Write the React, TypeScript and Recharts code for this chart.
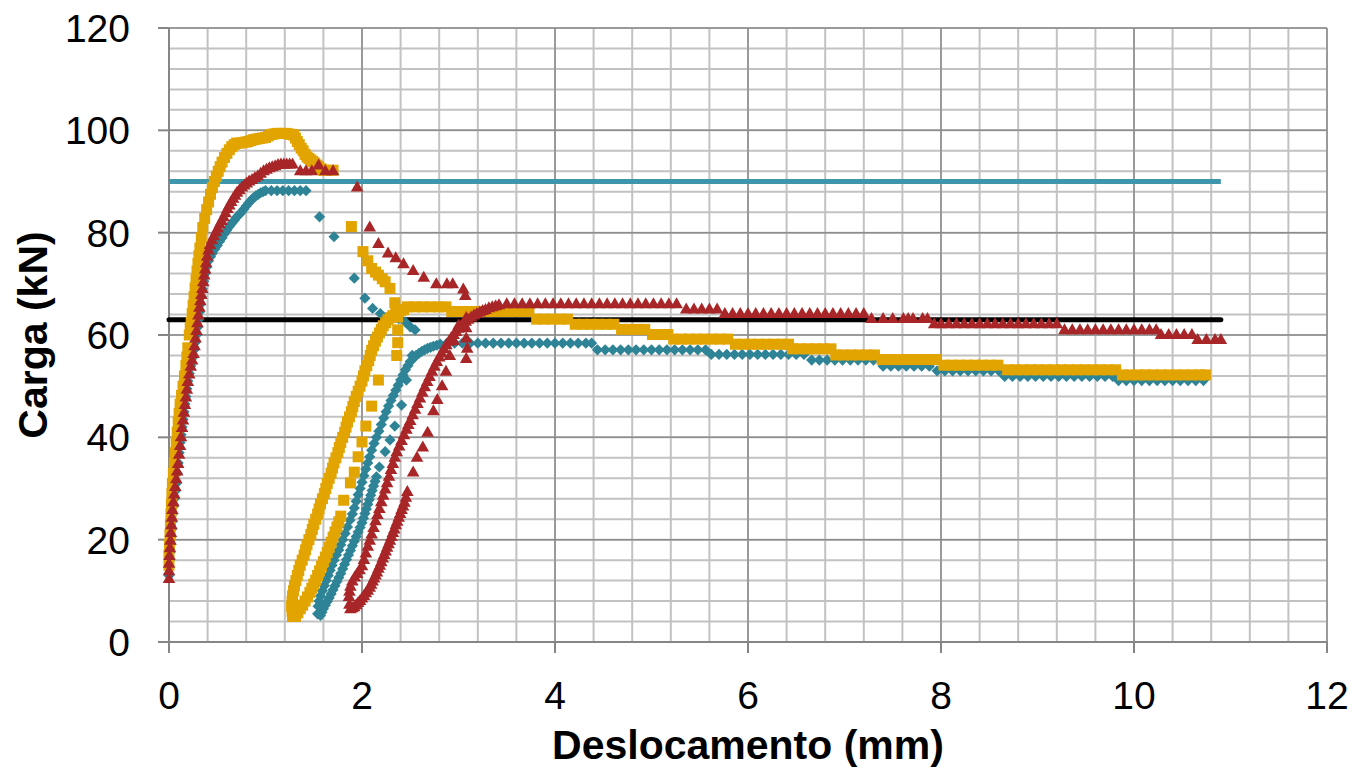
import { ScatterChart, Scatter, XAxis, YAxis, CartesianGrid, Label } from 'recharts';

type Pt = [number, number];

const FONT = '"Liberation Sans", Arial, sans-serif';
const TEAL = '#2E8496';
const TEAL_LINE = '#3E96AC';
const GOLD = '#E2A400';
const RED = '#A82628';

const xTicks = [0, 2, 4, 6, 8, 10, 12];
const yTicks = [0, 20, 40, 60, 80, 100, 120];
const xMinor = [0, 0.4, 0.8, 1.2, 1.6, 2, 2.4, 2.8, 3.2, 3.6, 4, 4.4, 4.8, 5.2, 5.6, 6, 6.4, 6.8, 7.2, 7.6, 8, 8.4, 8.8, 9.2, 9.6, 10, 10.4, 10.8, 11.2, 11.6, 12];
const yMinor = [0, 4, 8, 12, 16, 20, 24, 28, 32, 36, 40, 44, 48, 52, 56, 60, 64, 68, 72, 76, 80, 84, 88, 92, 96, 100, 104, 108, 112, 116, 120];

// reference lines (kN)
const upperLine: Pt[] = [[0, 90], [10.9, 90]];
const lowerLine: Pt[] = [[0, 63], [10.9, 63]];

// teal (diamonds)
const tealRise: Pt[] = [[0, 13], [0, 14.5], [0.005, 16], [0.01, 17.5], [0.015, 19], [0.02, 20.5], [0.025, 22], [0.03, 23.5], [0.035, 25], [0.045, 26.5], [0.055, 28], [0.065, 29.5], [0.075, 31], [0.085, 33], [0.095, 35], [0.105, 37], [0.115, 39], [0.125, 40.5], [0.135, 42], [0.145, 43.5], [0.155, 45], [0.165, 46.5], [0.175, 48], [0.185, 49.5], [0.195, 51], [0.21, 52.5], [0.225, 54], [0.24, 55.5], [0.255, 57], [0.27, 58.5], [0.285, 60], [0.295, 61.5], [0.305, 63], [0.315, 64.5], [0.325, 66], [0.335, 67.5], [0.345, 69], [0.36, 70.5], [0.375, 72], [0.39, 73.3], [0.41, 74.5], [0.43, 75.3], [0.45, 76], [0.475, 76.8], [0.5, 77.5], [0.525, 78.3], [0.55, 79], [0.575, 79.8], [0.6, 80.5], [0.625, 81.2], [0.65, 81.8], [0.675, 82.4], [0.7, 83], [0.725, 83.5], [0.75, 84], [0.775, 84.6], [0.8, 85.2], [0.825, 85.8], [0.85, 86.3], [0.875, 86.8], [0.9, 87.2], [0.925, 87.5], [0.95, 87.8], [0.975, 88]];
const tealPeak: Pt[] = [[1.0, 88.2], [1.06, 88.2], [1.12, 88.2], [1.18, 88.2], [1.24, 88.2], [1.3, 88.2], [1.36, 88.2], [1.42, 88.2]];
const tealDrop: Pt[] = [[1.56, 83.1], [1.71, 79.2], [1.92, 71.1], [2.03, 67.2], [2.11, 65.2], [2.19, 64.2], [2.29, 63.6], [2.38, 63.2], [2.45, 62.5], [2.5, 61.6], [2.55, 61.0]];
const tealUnload: Pt[] = [[2.52, 56.0], [2.46, 51.2], [2.41, 46.3], [2.34, 42.2], [2.29, 39.5], [2.24, 37.2], [2.18, 34.2], [2.15, 32.3], [2.135, 31.4], [2.12, 30.5], [2.105, 29.6], [2.09, 28.7], [2.075, 27.8], [2.06, 26.9], [2.045, 26], [2.03, 25.1], [2.015, 24.2], [2.0, 23.3], [1.98, 22.4], [1.96, 21.5], [1.94, 20.6], [1.92, 19.7], [1.9, 18.8], [1.88, 17.9], [1.86, 17], [1.84, 16.1], [1.82, 15.2], [1.8, 14.3], [1.78, 13.4], [1.76, 12.6], [1.74, 11.8], [1.72, 11], [1.7, 10.2], [1.68, 9.4], [1.66, 8.6], [1.64, 7.9], [1.62, 7.2], [1.6, 6.5], [1.585, 5.8], [1.57, 5.2]];
const tealReload: Pt[] = [[1.54, 5.5], [1.545, 7], [1.555, 8], [1.57, 9], [1.59, 10], [1.61, 11], [1.63, 12], [1.65, 13], [1.67, 14], [1.69, 15], [1.71, 16], [1.735, 17], [1.76, 18], [1.78, 19], [1.8, 20], [1.825, 21.2], [1.85, 22.5], [1.875, 23.8], [1.9, 25], [1.92, 26.2], [1.94, 27.5], [1.96, 28.8], [1.98, 30], [2.0, 31.2], [2.02, 32.5], [2.04, 33.8], [2.06, 35], [2.08, 36.2], [2.1, 37.5], [2.125, 38.8], [2.15, 40], [2.175, 41.2], [2.2, 42.5], [2.225, 43.8], [2.25, 45], [2.275, 46.1], [2.3, 47.2], [2.325, 48.2], [2.35, 49.2], [2.375, 50.2], [2.4, 51.2], [2.425, 52.2], [2.45, 53.2], [2.475, 54], [2.5, 54.8], [2.53, 55.4], [2.56, 56], [2.59, 56.4], [2.62, 56.8], [2.65, 57.1], [2.68, 57.4], [2.71, 57.6], [2.74, 57.8], [2.775, 58], [2.81, 58.2]];
const tealPlateau: Pt[] = [
  [2.88, 58.4], [2.96, 58.4], [3.04, 58.4], [3.12, 58.4], [3.2, 58.4], [3.28, 58.4], [3.36, 58.4], [3.44, 58.4], [3.52, 58.4], [3.6, 58.4], [3.68, 58.4], [3.76, 58.4], [3.84, 58.4], [3.92, 58.4], [4.0, 58.4], [4.08, 58.4], [4.16, 58.4], [4.24, 58.4], [4.32, 58.4], [4.38, 58.4],
  [4.44, 57.1], [4.52, 57.1], [4.6, 57.1], [4.68, 57.1], [4.76, 57.1], [4.84, 57.1], [4.92, 57.1], [5.0, 57.1], [5.08, 57.1], [5.16, 57.1], [5.24, 57.1], [5.32, 57.1], [5.4, 57.1], [5.48, 57.1], [5.56, 57.1],
  [5.62, 56.2], [5.7, 56.2], [5.78, 56.2], [5.86, 56.2], [5.94, 56.2], [6.02, 56.2], [6.1, 56.2], [6.18, 56.2], [6.26, 56.2], [6.34, 56.2], [6.42, 56.2], [6.5, 56.2], [6.58, 56.2],
  [6.66, 55.1], [6.74, 55.1], [6.82, 55.1], [6.9, 55.1], [6.98, 55.1], [7.06, 55.1], [7.14, 55.1], [7.22, 55.1], [7.3, 55.1],
  [7.4, 53.9], [7.48, 53.9], [7.56, 53.9], [7.64, 53.9], [7.72, 53.9], [7.8, 53.9], [7.88, 53.9],
  [7.96, 53.0], [8.04, 53.0], [8.12, 53.0], [8.2, 53.0], [8.28, 53.0], [8.36, 53.0], [8.44, 53.0], [8.52, 53.0], [8.6, 53.0],
  [8.66, 51.9], [8.74, 51.9], [8.82, 51.9], [8.9, 51.9], [8.98, 51.9], [9.06, 51.9], [9.14, 51.9], [9.22, 51.9], [9.3, 51.9], [9.38, 51.9], [9.46, 51.9], [9.54, 51.9], [9.62, 51.9], [9.7, 51.9], [9.78, 51.9],
  [9.84, 51.1], [9.92, 51.1], [10.0, 51.1], [10.08, 51.1], [10.16, 51.1], [10.24, 51.1], [10.32, 51.1], [10.4, 51.1], [10.48, 51.1], [10.56, 51.1], [10.64, 51.1], [10.72, 51.1],
];

// gold (squares)
const goldRise: Pt[] = [[0, 15], [0, 17], [0.005, 19], [0.01, 21], [0.015, 23], [0.02, 25], [0.025, 27], [0.03, 29], [0.035, 31], [0.045, 33], [0.055, 35], [0.065, 37], [0.075, 39], [0.085, 41], [0.095, 43], [0.105, 44.7], [0.115, 46.5], [0.13, 48.2], [0.145, 50], [0.16, 52], [0.175, 54], [0.185, 55.7], [0.195, 57.5], [0.21, 60], [0.22, 61.5], [0.23, 62.5], [0.24, 64.2], [0.25, 65.8], [0.26, 67.5], [0.27, 69.2], [0.28, 70.8], [0.29, 72.5], [0.3, 74], [0.31, 75.5], [0.32, 77], [0.335, 79], [0.35, 81], [0.37, 82.8], [0.39, 84.5], [0.41, 86], [0.43, 87.5], [0.45, 88.8], [0.47, 90], [0.49, 91], [0.51, 92], [0.53, 92.9], [0.55, 93.8], [0.575, 94.7], [0.6, 95.5], [0.625, 96.2], [0.65, 96.8], [0.675, 97.2], [0.7, 97.5], [0.73, 97.5], [0.76, 97.6], [0.79, 97.7], [0.82, 97.8], [0.85, 98], [0.88, 98.2], [0.91, 98.3], [0.94, 98.4], [0.97, 98.5], [1.0, 98.6], [1.03, 98.9], [1.06, 99.2], [1.09, 99.3], [1.12, 99.4], [1.15, 99.4], [1.18, 99.4], [1.21, 99.4], [1.24, 99.3], [1.27, 99.2], [1.29, 99.1], [1.31, 98.5], [1.33, 97.8], [1.35, 97.2], [1.37, 96.5], [1.39, 96], [1.41, 95.3], [1.43, 94.8], [1.45, 94.5], [1.47, 94.2], [1.49, 93.9], [1.51, 93.6], [1.53, 93.2], [1.55, 92.9], [1.575, 92.5], [1.6, 92.2], [1.65, 92.2], [1.7, 92.2]];
const goldDrop: Pt[] = [[1.89, 81.2], [2.01, 76.3], [2.06, 74.5], [2.1, 73], [2.14, 72.3], [2.17, 71.7], [2.21, 71], [2.24, 70.4], [2.29, 69.1], [2.34, 66.3], [2.37, 63.5], [2.37, 61], [2.37, 58.5], [2.36, 56]];
const goldUnload: Pt[] = [[2.17, 51.2], [2.1, 46.1], [2.04, 42.2], [2.0, 39.1], [1.96, 36.2], [1.92, 33.2], [1.88, 31.1], [1.81, 27.7], [1.78, 24.6], [1.76, 23.5], [1.74, 22.5], [1.72, 21.5], [1.7, 20.5], [1.68, 19.5], [1.66, 18.5], [1.64, 17.5], [1.62, 16.6], [1.6, 15.7], [1.58, 14.8], [1.56, 13.9], [1.54, 13], [1.52, 12.1], [1.5, 11.3], [1.48, 10.5], [1.46, 9.7], [1.435, 8.8], [1.41, 8], [1.385, 7.2], [1.36, 6.5], [1.335, 5.7], [1.31, 5]];
const goldReload: Pt[] = [[1.28, 5], [1.275, 6], [1.27, 7], [1.275, 8], [1.28, 9], [1.29, 10], [1.3, 11], [1.315, 12], [1.33, 13], [1.345, 14], [1.36, 15], [1.38, 16], [1.4, 17], [1.415, 18], [1.43, 19], [1.45, 20], [1.47, 21], [1.485, 22], [1.5, 23], [1.52, 24], [1.54, 25], [1.555, 26], [1.57, 27], [1.59, 28], [1.61, 29], [1.625, 30], [1.64, 31], [1.66, 32], [1.68, 33], [1.695, 34], [1.71, 35], [1.73, 36], [1.75, 37], [1.765, 38], [1.78, 39], [1.8, 40], [1.82, 41], [1.835, 42], [1.85, 43], [1.87, 44], [1.89, 45], [1.905, 46], [1.92, 47], [1.94, 48], [1.96, 49], [1.98, 50], [2.0, 51], [2.015, 52], [2.03, 53], [2.05, 54], [2.07, 55], [2.085, 56], [2.1, 57], [2.12, 57.9], [2.14, 58.8], [2.16, 59.6], [2.18, 60.4], [2.2, 61.1], [2.22, 61.8], [2.245, 62.4], [2.27, 63], [2.295, 63.4], [2.32, 63.8], [2.35, 64.2], [2.38, 64.5], [2.405, 64.8], [2.43, 65]];
const goldPlateau: Pt[] = [
  [2.47, 65.5], [2.55, 65.5], [2.63, 65.5], [2.71, 65.5], [2.79, 65.5], [2.87, 65.5],
  [2.93, 64.6], [3.01, 64.6], [3.09, 64.6], [3.17, 64.6], [3.25, 64.6], [3.33, 64.6], [3.41, 64.6], [3.49, 64.6], [3.57, 64.6], [3.65, 64.6], [3.73, 64.6],
  [3.81, 63.1], [3.89, 63.1], [3.97, 63.1], [4.05, 63.1], [4.13, 63.1],
  [4.21, 62.1], [4.29, 62.1], [4.37, 62.1], [4.45, 62.1], [4.53, 62.1], [4.61, 62.1],
  [4.69, 61.1], [4.77, 61.1], [4.85, 61.1], [4.93, 61.1],
  [5.01, 60.1], [5.09, 60.1], [5.17, 60.1],
  [5.23, 59.2], [5.31, 59.2], [5.39, 59.2], [5.47, 59.2], [5.55, 59.2], [5.63, 59.2], [5.71, 59.2], [5.79, 59.2],
  [5.87, 58.2], [5.95, 58.2], [6.03, 58.2], [6.11, 58.2], [6.19, 58.2], [6.27, 58.2], [6.35, 58.2], [6.42, 58.2],
  [6.46, 57.3], [6.54, 57.3], [6.62, 57.3], [6.7, 57.3], [6.78, 57.3], [6.86, 57.3],
  [6.91, 56.1], [6.99, 56.1], [7.07, 56.1], [7.15, 56.1], [7.23, 56.1], [7.31, 56.1],
  [7.39, 55.2], [7.47, 55.2], [7.55, 55.2], [7.63, 55.2], [7.71, 55.2], [7.79, 55.2], [7.87, 55.2], [7.95, 55.2],
  [8.03, 54.1], [8.11, 54.1], [8.19, 54.1], [8.27, 54.1], [8.35, 54.1], [8.43, 54.1], [8.51, 54.1], [8.59, 54.1],
  [8.69, 53.2], [8.77, 53.2], [8.85, 53.2], [8.93, 53.2], [9.01, 53.2], [9.09, 53.2], [9.17, 53.2], [9.25, 53.2], [9.33, 53.2], [9.41, 53.2], [9.49, 53.2], [9.57, 53.2], [9.65, 53.2], [9.73, 53.2], [9.81, 53.2],
  [9.88, 52.2], [9.96, 52.2], [10.04, 52.2], [10.12, 52.2], [10.2, 52.2], [10.28, 52.2], [10.36, 52.2], [10.44, 52.2], [10.52, 52.2], [10.6, 52.2], [10.68, 52.2], [10.74, 52.2],
];

// red (triangles)
const redRise: Pt[] = [[0, 12.5], [0, 14], [0, 15.5], [0.005, 17], [0.01, 18.5], [0.015, 20], [0.02, 21.5], [0.025, 23], [0.03, 24.5], [0.035, 26], [0.045, 27.5], [0.055, 29], [0.065, 30.5], [0.075, 32], [0.085, 33.5], [0.095, 35], [0.105, 36.8], [0.115, 38.5], [0.125, 40.2], [0.135, 42], [0.145, 43.5], [0.155, 45], [0.165, 46.5], [0.175, 48], [0.185, 49.5], [0.195, 51], [0.21, 52.5], [0.225, 54], [0.24, 55.2], [0.255, 56.5], [0.265, 58], [0.275, 59.5], [0.285, 61], [0.295, 62.5], [0.305, 64], [0.315, 65.5], [0.325, 66.8], [0.335, 68], [0.345, 69.2], [0.355, 70.5], [0.365, 71.8], [0.375, 73], [0.385, 74.2], [0.395, 75.5], [0.41, 76.7], [0.425, 77.8], [0.445, 78.7], [0.465, 79.5], [0.485, 80.3], [0.505, 81], [0.525, 81.8], [0.545, 82.5], [0.565, 83.2], [0.585, 84], [0.605, 84.8], [0.625, 85.5], [0.645, 86.2], [0.665, 86.8], [0.685, 87.4], [0.705, 88], [0.73, 88.5], [0.755, 89], [0.78, 89.4], [0.805, 89.8], [0.83, 90.2], [0.86, 90.5], [0.89, 90.9], [0.92, 91.2], [0.95, 91.7], [0.98, 92.2], [1.01, 92.5], [1.04, 92.8], [1.07, 93], [1.1, 93.2], [1.13, 93.4], [1.16, 93.5], [1.19, 93.5], [1.22, 93.5], [1.25, 93.5], [1.28, 93.5]];
const redPeak: Pt[] = [[1.36, 92.2], [1.42, 92.2], [1.48, 92.2], [1.55, 93.3], [1.62, 92.2], [1.7, 92.2]];
const redDrop: Pt[] = [[1.95, 89], [2.08, 81.2], [2.17, 78], [2.27, 76.1], [2.35, 75.2], [2.43, 74], [2.53, 72.7], [2.64, 71.4], [2.77, 70.1], [2.88, 70.1], [2.94, 70.1], [3.05, 69.1], [3.07, 67.8], [3.08, 63.5], [3.08, 61.5], [3.08, 59.5], [3.09, 57.5], [3.08, 55.5]];
const redUnload: Pt[] = [[3.0, 62], [2.95, 59], [2.91, 56.1], [2.87, 53], [2.83, 50.2], [2.78, 47.5], [2.74, 45.3], [2.68, 41.1], [2.63, 38.2], [2.57, 36.2], [2.53, 33.3], [2.47, 29.5], [2.455, 28.4], [2.44, 27.4], [2.425, 26.7], [2.41, 26], [2.395, 25.2], [2.38, 24.5], [2.365, 23.7], [2.35, 23], [2.335, 22.2], [2.32, 21.5], [2.305, 20.7], [2.29, 20], [2.275, 19.3], [2.26, 18.6], [2.245, 17.9], [2.23, 17.2], [2.215, 16.5], [2.2, 15.8], [2.185, 15.1], [2.17, 14.5], [2.155, 13.8], [2.14, 13.2], [2.125, 12.6], [2.11, 12], [2.095, 11.4], [2.08, 10.8], [2.06, 10.2], [2.04, 9.7], [2.02, 9.2], [2.0, 8.7], [1.98, 8.2], [1.96, 7.8], [1.94, 7.4], [1.92, 7], [1.9, 6.8], [1.88, 6.6]];
const redReload: Pt[] = [[1.87, 7.5], [1.865, 9], [1.87, 10], [1.88, 11], [1.9, 12], [1.925, 12.8], [1.95, 13.5], [1.975, 14.2], [2.0, 15], [2.02, 16.2], [2.04, 17.5], [2.06, 18.8], [2.08, 20], [2.1, 21.2], [2.12, 22.5], [2.14, 23.8], [2.16, 25], [2.18, 26.2], [2.2, 27.5], [2.22, 28.8], [2.24, 30], [2.26, 31.2], [2.28, 32.5], [2.3, 33.8], [2.32, 35], [2.34, 36.2], [2.36, 37.3], [2.385, 38.4], [2.41, 39.5], [2.435, 40.6], [2.46, 41.7], [2.48, 42.6], [2.5, 43.4], [2.525, 44.5], [2.55, 45.6], [2.575, 46.7], [2.6, 47.8], [2.625, 48.9], [2.65, 50], [2.675, 51], [2.7, 52], [2.725, 53], [2.75, 54], [2.775, 54.9], [2.8, 55.8], [2.825, 56.6], [2.85, 57.4], [2.875, 58.2], [2.9, 58.9], [2.925, 59.6], [2.95, 60.2], [2.975, 60.8], [3.0, 61.4], [3.025, 61.9], [3.05, 62.4], [3.075, 62.8], [3.1, 63.2], [3.13, 63.6], [3.16, 64], [3.19, 64.3], [3.22, 64.6], [3.25, 64.9], [3.28, 65.1], [3.315, 65.4], [3.35, 65.6], [3.385, 65.8], [3.42, 66]];
const redPlateau: Pt[] = [
  [3.5, 66.2], [3.58, 66.2], [3.66, 66.2], [3.74, 66.2], [3.82, 66.2], [3.9, 66.2], [3.98, 66.2], [4.06, 66.2], [4.14, 66.2], [4.22, 66.2], [4.3, 66.2], [4.38, 66.2], [4.46, 66.2], [4.54, 66.2], [4.62, 66.2], [4.7, 66.2], [4.78, 66.2], [4.86, 66.2], [4.94, 66.2], [5.02, 66.2], [5.1, 66.2], [5.18, 66.2], [5.26, 66.2],
  [5.36, 65.2], [5.44, 65.2], [5.52, 65.2], [5.6, 65.2], [5.68, 65.2],
  [5.76, 64.3], [5.84, 64.3], [5.92, 64.3], [6.0, 64.3], [6.08, 64.3], [6.16, 64.3], [6.24, 64.3], [6.32, 64.3], [6.4, 64.3], [6.48, 64.3], [6.56, 64.3], [6.64, 64.3], [6.72, 64.3], [6.8, 64.3], [6.88, 64.3], [6.96, 64.3], [7.04, 64.3], [7.12, 64.3], [7.2, 64.3],
  [7.28, 63.3], [7.4, 63.3], [7.5, 63.3], [7.61, 63.3], [7.66, 63.3], [7.71, 63.3], [7.81, 63.3], [7.86, 63.3],
  [7.93, 62.3], [8.0, 62.3], [8.08, 62.3], [8.16, 62.3], [8.24, 62.3], [8.32, 62.3], [8.4, 62.3], [8.48, 62.3], [8.56, 62.3], [8.64, 62.3], [8.72, 62.3], [8.8, 62.3], [8.88, 62.3], [8.96, 62.3], [9.04, 62.3], [9.12, 62.3], [9.2, 62.3],
  [9.28, 61.1], [9.36, 61.1], [9.44, 61.1], [9.52, 61.1], [9.6, 61.1], [9.68, 61.1], [9.76, 61.1], [9.84, 61.1], [9.92, 61.1], [10.0, 61.1], [10.08, 61.1], [10.16, 61.1], [10.23, 61.1],
  [10.28, 60.2], [10.36, 60.2], [10.44, 60.2], [10.52, 60.2], [10.6, 60.2],
  [10.66, 59.2], [10.75, 59.2], [10.84, 59.2], [10.9, 59.2],
];

const toData = (...parts: Pt[][]) => parts.flat().map(([x, y]) => ({ x, y }));

const tealData = toData(tealRise, tealPeak, tealDrop, tealUnload, tealReload, tealPlateau);
const goldData = toData(goldRise, goldDrop, goldUnload, goldReload, goldPlateau);
const redData = toData(redRise, redPeak, redDrop, redUnload, redReload, redPlateau);

const Diamond = (p: any) => {
  const { cx, cy } = p;
  const r = 5.6;
  return <polygon points={`${cx},${cy - r} ${cx + r},${cy} ${cx},${cy + r} ${cx - r},${cy}`} fill={TEAL} />;
};

const Square = (p: any) => {
  const { cx, cy } = p;
  return <rect x={cx - 5.5} y={cy - 5.5} width={11} height={11} fill={GOLD} />;
};

const Triangle = (p: any) => {
  const { cx, cy } = p;
  return <polygon points={`${cx},${cy - 6} ${cx + 6.3},${cy + 5} ${cx - 6.3},${cy + 5}`} fill={RED} />;
};

const NoDot = () => <g />;

const YTitle = (props: any) => {
  const { viewBox } = props;
  const cx = viewBox.x + 25;
  const cy = viewBox.y + viewBox.height / 2;
  return (
    <text x={cx} y={cy} transform={`rotate(-90 ${cx} ${cy})`} textAnchor="middle" dominantBaseline="central"
      fontFamily={FONT} fontSize={41} fontWeight="bold" fill="#000">
      Carga (kN)
    </text>
  );
};

export default function App() {
  return (
    <ScatterChart width={1340} height={767} margin={{ top: 20, right: 21, left: 0, bottom: 0 }}>
      <CartesianGrid horizontalValues={yMinor} verticalValues={xMinor} stroke="#C2C2C2" strokeWidth={2} />
      <CartesianGrid horizontalValues={yTicks} verticalValues={xTicks} stroke="#8C8C8C" strokeWidth={1.5} />
      <XAxis
        type="number"
        dataKey="x"
        domain={[0, 12]}
        ticks={xTicks}
        interval={0}
        height={133}
        tickSize={11}
        tickMargin={28}
        axisLine={{ stroke: '#868686', strokeWidth: 2 }}
        tickLine={{ stroke: '#868686', strokeWidth: 2 }}
        tick={{ fill: '#000', fontSize: 39, fontFamily: FONT }}
      >
        <Label value="Deslocamento (mm)" position="insideBottom" offset={16}
          style={{ fontFamily: FONT, fontSize: 41, fontWeight: 'bold', fill: '#000' }} />
      </XAxis>
      <YAxis
        type="number"
        dataKey="y"
        domain={[0, 120]}
        ticks={yTicks}
        interval={0}
        width={161}
        tickSize={11}
        tickMargin={28}
        axisLine={{ stroke: '#868686', strokeWidth: 2 }}
        tickLine={{ stroke: '#868686', strokeWidth: 2 }}
        tick={{ fill: '#000', fontSize: 39, fontFamily: FONT }}
      >
        <Label content={YTitle} />
      </YAxis>
      <Scatter data={toData(upperLine)} line={{ stroke: TEAL_LINE, strokeWidth: 5 }} shape={NoDot} isAnimationActive={false} />
      <Scatter data={toData(lowerLine)} line={{ stroke: '#000', strokeWidth: 5, strokeLinecap: 'round' }} shape={NoDot} isAnimationActive={false} />
      <Scatter data={tealData} shape={Diamond} isAnimationActive={false} />
      <Scatter data={goldData} shape={Square} isAnimationActive={false} />
      <Scatter data={redData} shape={Triangle} isAnimationActive={false} />
    </ScatterChart>
  );
}
